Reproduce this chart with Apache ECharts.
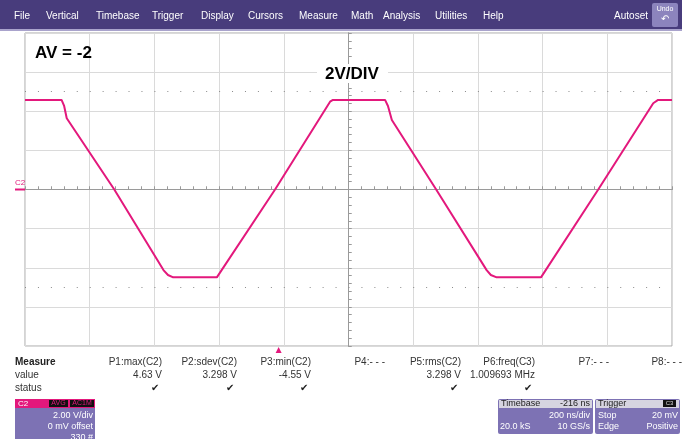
<!DOCTYPE html>
<html>
<head>
<meta charset="utf-8">
<style>
  html, body { margin: 0; padding: 0; background: #fff; }
  #chart { width: 682px; height: 439px; }
</style>
<script src="https://cdn.jsdelivr.net/npm/echarts/dist/echarts.min.js"></script>
</head>
<body>
<div id="chart"></div>
<script>
// trace C2 (time in ns, 200 ns/div; volts, 2 V/div)
var timeNs = [-1000, -887, -879, -871, -724, -572, -558, -542, -407, -227, -57, -48,
              113, 122, 134, 271, 427, 440, 458, 595, 772, 942, 957, 1000];
var voltsV = [4.58, 4.58, 4.27, 3.64, 0, -4.12, -4.37, -4.49, -4.49, 0, 4.49, 4.58,
              4.58, 4.27, 3.55, 0, -4.12, -4.37, -4.49, -4.49, 0, 4.41, 4.58, 4.58];

var menuItems = ['File', 'Vertical', 'Timebase', 'Trigger', 'Display', 'Cursors',
                 'Measure', 'Math', 'Analysis', 'Utilities', 'Help'];
var measureNames = ['P1:max(C2)', 'P2:sdev(C2)', 'P3:min(C2)', 'P4:- - -',
                    'P5:rms(C2)', 'P6:freq(C3)', 'P7:- - -', 'P8:- - -'];
var measureValues = ['4.63 V', '3.298 V', '-4.55 V', '', '3.298 V', '1.009693 MHz', '', ''];
var measureOk = [true, true, true, false, true, true, false, false];
var triggerDelay = -216;

var FONT = "'Liberation Sans', Arial, sans-serif";
var PINK = '#e3187c';
var BOX = '#7d72b4';

var chart = echarts.init(document.getElementById('chart'));

function txt(s, x, y, opt) {
    opt = opt || {};
    return {
        type: 'text', z: 100,
        style: {
            text: s, x: x, y: y,
            fill: opt.fill || '#333',
            font: (opt.bold ? 'bold ' : '') + (opt.size || 10) + 'px ' + FONT,
            textAlign: opt.align || 'left',
            textVerticalAlign: 'middle'
        }
    };
}
function rect(x, y, w, h, fill, r) {
    return { type: 'rect', z: 90, shape: { x: x, y: y, width: w, height: h, r: r || 0 }, style: { fill: fill } };
}

function buildGraphic() {
    var g = [];
    // menu bar
    g.push(rect(0, 0, 682, 29, '#483c7c'));
    g.push(rect(0, 29, 682, 2, '#a9a3cc'));
    var menuX = [14, 46, 96, 152, 201, 248, 299, 351, 383, 435, 483];
    menuItems.forEach(function (m, i) {
        g.push(txt(m, menuX[i], 16, { fill: '#fff', size: 10 }));
    });
    g.push(txt('Autoset', 648, 16, { fill: '#fff', size: 10, align: 'right' }));
    g.push(rect(652, 3, 26, 24, '#8c84bd', 2));
    g.push(txt('Undo', 665, 9, { fill: '#fff', size: 7, align: 'center' }));
    g.push(txt('\u21b6', 665, 19, { fill: '#fff', size: 10, align: 'center' }));

    // annotations
    g.push(txt('AV = -2', 35, 53, { fill: '#000', size: 17, bold: true }));
    g.push(rect(317, 64, 71, 19, '#fff'));
    g.push(txt('2V/DIV', 352, 74, { fill: '#000', size: 17, bold: true, align: 'center' }));

    // channel marker
    g.push(txt('C2', 15, 183, { fill: PINK, size: 8 }));
    g.push({ type: 'line', z: 100, shape: { x1: 15, y1: 189.5, x2: 25, y2: 189.5 }, style: { stroke: PINK, lineWidth: 2 } });

    // trigger position marker
    var tp = chart.convertToPixel({ gridIndex: 0 }, [triggerDelay, -8]);
    g.push({ type: 'polygon', z: 100, shape: { points: [[tp[0] - 3, tp[1] + 7], [tp[0] + 3, tp[1] + 7], [tp[0], tp[1] + 1]] }, style: { fill: PINK } });

    // measure table
    g.push(txt('Measure', 15, 362, { fill: '#222', size: 10, bold: true }));
    g.push(txt('value', 15, 375, { size: 10 }));
    g.push(txt('status', 15, 388, { size: 10 }));
    var colRight = [162, 237, 311, 385, 461, 535, 609, 682];
    measureNames.forEach(function (n, i) {
        g.push(txt(n, colRight[i], 362, { size: 10, align: 'right' }));
        if (measureValues[i]) g.push(txt(measureValues[i], colRight[i], 375, { size: 10, align: 'right' }));
        if (measureOk[i]) g.push(txt('\u2714', colRight[i] - 3, 388, { size: 10, align: 'right', fill: '#222' }));
    });

    // C2 channel box
    g.push(rect(15, 399, 80, 42, BOX, 2));
    g.push(rect(15, 399, 80, 9, PINK));
    g.push(txt('C2', 18, 403.5, { fill: '#fff', size: 8 }));
    g.push(rect(49, 400, 19, 7, '#111'));
    g.push(txt('AVG', 58.5, 403.5, { fill: PINK, size: 7, align: 'center' }));
    g.push(rect(70, 400, 24, 7, '#111'));
    g.push(txt('AC1M', 82, 403.5, { fill: PINK, size: 7, align: 'center' }));
    g.push(txt('2.00 V/div', 93, 416, { fill: '#fff', size: 9, align: 'right' }));
    g.push(txt('0 mV offset', 93, 427, { fill: '#fff', size: 9, align: 'right' }));
    g.push(txt('330 #', 93, 438, { fill: '#fff', size: 9, align: 'right' }));

    // timebase box
    g.push(rect(498, 399, 95, 35, BOX, 2));
    g.push(rect(499, 400, 93, 8, '#d6d4e0'));
    g.push(txt('Timebase', 501, 404, { fill: '#222', size: 9 }));
    g.push(txt(triggerDelay + ' ns', 590, 404, { fill: '#222', size: 9, align: 'right' }));
    g.push(txt('200 ns/div', 590, 416, { fill: '#fff', size: 9, align: 'right' }));
    g.push(txt('20.0 kS', 500, 427, { fill: '#fff', size: 9 }));
    g.push(txt('10 GS/s', 590, 427, { fill: '#fff', size: 9, align: 'right' }));

    // trigger box
    g.push(rect(595, 399, 85, 35, BOX, 2));
    g.push(rect(596, 400, 83, 8, '#d6d4e0'));
    g.push(txt('Trigger', 598, 404, { fill: '#222', size: 9 }));
    g.push(rect(663, 400, 13, 7, '#111'));
    g.push(txt('C3', 669.5, 403.5, { fill: '#ddd', size: 6, align: 'center' }));
    g.push(txt('Stop', 598, 416, { fill: '#fff', size: 9 }));
    g.push(txt('20 mV', 678, 416, { fill: '#fff', size: 9, align: 'right' }));
    g.push(txt('Edge', 598, 427, { fill: '#fff', size: 9 }));
    g.push(txt('Positive', 678, 427, { fill: '#fff', size: 9, align: 'right' }));
    return g;
}

function centerAxis(inside, min, max, interval) {
    return {
        type: 'value', min: min, max: max, interval: interval,
        axisLine: { show: true, onZero: true, lineStyle: { color: '#9a9a9a', width: 1 } },
        axisTick: { show: true, inside: inside, length: 3, lineStyle: { color: '#9a9a9a' } },
        minorTick: { show: true, splitNumber: 5, length: 3, lineStyle: { color: '#9a9a9a' } },
        axisLabel: { show: false },
        splitLine: { show: false }
    };
}

var xMain = centerAxis(true, -1000, 1000, 200);
xMain.splitLine = { show: true, lineStyle: { color: '#dadada', width: 1 } };
var yMain = centerAxis(true, -8, 8, 2);
yMain.splitLine = { show: true, lineStyle: { color: '#dadada', width: 1 } };

option = {
    animation: false,
    backgroundColor: '#fff',
    grid: {
        left: 25, right: 10, top: 33, bottom: 93,
        show: true, borderColor: '#a8a8a8', borderWidth: 1, backgroundColor: '#fff'
    },
    xAxis: [xMain, centerAxis(false, -1000, 1000, 200)],
    yAxis: [yMain, centerAxis(false, -8, 8, 2)],
    series: [{
        type: 'line',
        xAxisIndex: 0,
        yAxisIndex: 0,
        showSymbol: false,
        silent: true,
        data: timeNs.map(function (t, i) { return [t, voltsV[i]]; }),
        lineStyle: { color: PINK, width: 2 },
        markLine: {
            silent: true,
            symbol: 'none',
            label: { show: false },
            lineStyle: { color: '#8a8a8a', type: [1, 11.94], width: 1 },
            data: [{ yAxis: 5 }, { yAxis: -5 }]
        },
        z: 10
    }]
};

chart.setOption(option);
chart.setOption({ graphic: buildGraphic() });
</script>
</body>
</html>
